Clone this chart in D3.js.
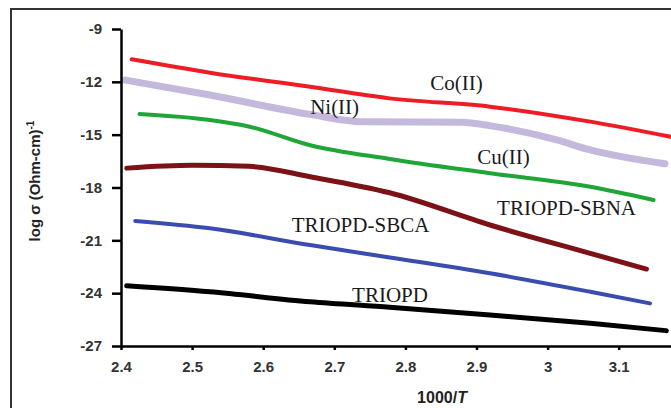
<!DOCTYPE html>
<html>
<head>
<meta charset="utf-8">
<script src="https://cdn.jsdelivr.net/npm/d3@7"></script>
<style>
  body { margin: 0; background: #fff; }
  .tick text { font-family: Arial, "Liberation Sans", sans-serif; font-weight: bold; font-size: 15px; fill: #333; }
  .lbl { font-family: "Liberation Serif", "Times New Roman", serif; font-size: 21px; fill: #1a1a1a; }
</style>
</head>
<body>
<svg id="chart" width="671" height="408"></svg>
<script>
// values
var xTicks = [2.4, 2.5, 2.6, 2.7, 2.8, 2.9, 3, 3.1];
var yTicks = [-9, -12, -15, -18, -21, -24, -27];

var coX = [2.415, 2.525, 2.666, 2.778, 2.919, 3.06, 3.173];
var coY = [-10.72, -11.48, -12.28, -12.94, -13.41, -14.26, -15.12];

var niX = [2.406, 2.525, 2.666, 2.74, 2.88, 2.92, 3.013, 3.06, 3.165];
var niY = [-11.9, -12.75, -13.85, -14.27, -14.3, -14.5, -15.3, -15.87, -16.65];

var cuX = [2.426, 2.525, 2.581, 2.666, 2.778, 2.919, 3.06, 3.149];
var cuY = [-13.83, -14.17, -14.55, -15.6, -16.38, -17.19, -17.96, -18.71];

var sbnaX = [2.408, 2.5, 2.58, 2.666, 2.778, 2.919, 3.06, 3.139];
var sbnaY = [-16.9, -16.74, -16.8, -17.39, -18.3, -20.13, -21.74, -22.63];

var sbcaX = [2.42, 2.525, 2.666, 2.778, 2.919, 3.06, 3.144];
var sbcaY = [-19.9, -20.32, -21.27, -21.97, -22.87, -23.92, -24.58];

var triX = [2.408, 2.525, 2.666, 2.778, 2.919, 3.06, 3.167];
var triY = [-23.58, -23.92, -24.49, -24.8, -25.24, -25.71, -26.13];

var labelText = ["Co(II)", "Ni(II)", "Cu(II)", "TRIOPD-SBNA", "TRIOPD-SBCA", "TRIOPD"];
var labelX = [2.835, 2.666, 2.901, 2.929, 2.640, 2.725];
var labelY = [-12.46, -13.83, -16.67, -19.56, -20.53, -24.5];

var series = [
    {x: coX, y: coY, color: "#ee1c24", w: 4},
    {x: niX, y: niY, color: "#c4b8dc", w: 7},
    {x: cuX, y: cuY, color: "#1fa637", w: 4},
    {x: sbnaX, y: sbnaY, color: "#7d1216", w: 5},
    {x: sbcaX, y: sbcaY, color: "#3b4cb0", w: 4},
    {x: triX, y: triY, color: "#000000", w: 5}
];

var svg = d3.select("#chart");

// frame round the figure
svg.append("path")
    .attr("d", "M11,408V9H671")
    .attr("fill", "none")
    .attr("stroke", "#333")
    .attr("stroke-width", 2);

var x = d3.scaleLinear().domain([2.4, 2.4 + 550 / 711]).range([121, 671]);
var y = d3.scaleLinear().domain([-27, -9]).range([346, 29]);

var line = d3.line()
    .x(function(d) { return x(d[0]); })
    .y(function(d) { return y(d[1]); })
    .curve(d3.curveMonotoneX);

series.forEach(function(s) {
    svg.append("path")
        .datum(d3.zip(s.x, s.y))
        .attr("d", line)
        .attr("fill", "none")
        .attr("stroke", s.color)
        .attr("stroke-width", s.w)
        .attr("stroke-linecap", "round");
});

var gx = svg.append("g")
    .attr("transform", "translate(0,346)")
    .call(d3.axisBottom(x).tickValues(xTicks).tickFormat(String)
        .tickSize(4).tickSizeOuter(0).tickPadding(11));
gx.select(".domain").attr("stroke", "#000").attr("stroke-width", 2.5);
gx.selectAll(".tick line").attr("stroke", "#000").attr("stroke-width", 2.5);

var gy = svg.append("g")
    .attr("transform", "translate(121,0)")
    .call(d3.axisLeft(y).tickValues(yTicks).tickFormat(String)
        .tickSize(9).tickSizeOuter(0).tickPadding(10));
gy.select(".domain").attr("stroke", "#000").attr("stroke-width", 2.5);
gy.selectAll(".tick line").attr("stroke", "#000").attr("stroke-width", 2.5);

svg.selectAll(".lbl")
    .data(labelText)
    .enter().append("text")
    .attr("class", "lbl")
    .attr("x", function(d, i) { return x(labelX[i]); })
    .attr("y", function(d, i) { return y(labelY[i]); })
    .text(function(d) { return d; });

// axis titles
var yt = svg.append("text")
    .attr("transform", "translate(40,181) rotate(-90)")
    .attr("text-anchor", "middle")
    .attr("font-family", "Arial, 'Liberation Sans', sans-serif")
    .attr("font-weight", "bold")
    .attr("font-size", 15)
    .attr("fill", "#222")
    .text("log σ (Ohm-cm)");
yt.append("tspan")
    .attr("dy", -6)
    .attr("font-size", 10)
    .text("-1");

var xt = svg.append("text")
    .attr("x", 442)
    .attr("y", 403)
    .attr("text-anchor", "middle")
    .attr("font-family", "Arial, 'Liberation Sans', sans-serif")
    .attr("font-weight", "bold")
    .attr("font-size", 16)
    .attr("fill", "#222")
    .text("1000/");
xt.append("tspan").attr("font-style", "italic").text("T");
</script>
</body>
</html>
